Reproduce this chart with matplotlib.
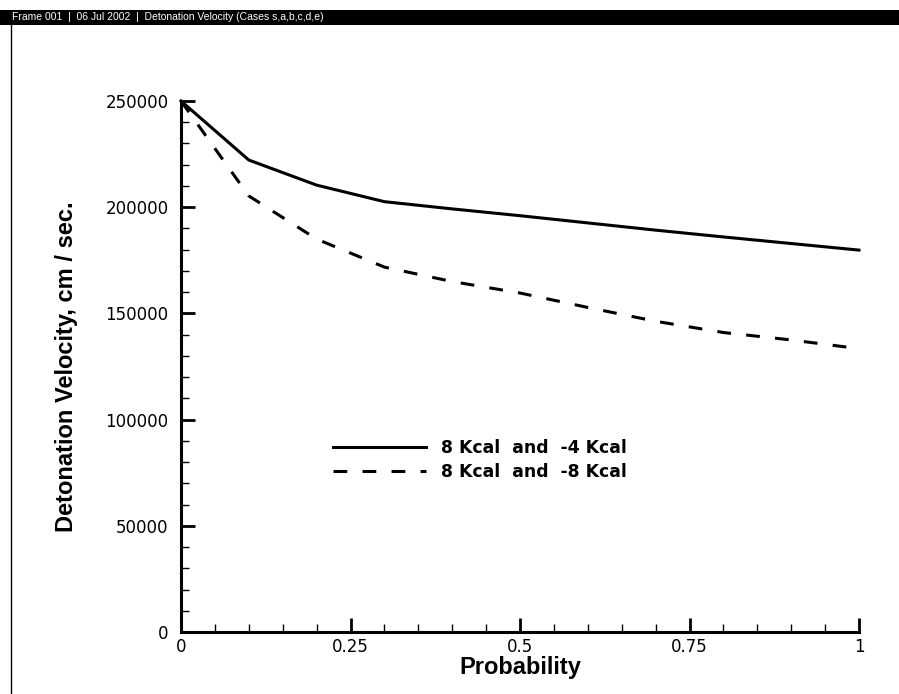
import matplotlib
matplotlib.use("Agg")
import matplotlib.pyplot as plt
from matplotlib.ticker import MultipleLocator, FuncFormatter
from matplotlib.patches import Rectangle
from matplotlib.lines import Line2D

# ---- data ----
probability = [0.0, 0.1, 0.2, 0.3, 0.4, 0.5, 0.6, 0.7, 0.8, 0.9, 1.0]
vel_8_m4 = [250000, 222200, 210400, 202600, 199200, 196000, 192600, 189200, 186000, 182900, 179800]
vel_8_m8 = [250000, 205300, 185000, 171800, 165000, 159600, 152800, 146300, 141000, 137500, 133400]
label_8_m4 = "8 Kcal  and  -4 Kcal"
label_8_m8 = "8 Kcal  and  -8 Kcal"
x_label = "Probability"
y_label = "Detonation Velocity, cm / sec."
header_text = "Frame 001  |  06 Jul 2002  |  Detonation Velocity (Cases s,a,b,c,d,e)"
x_major_ticks = [0, 0.25, 0.5, 0.75, 1]
x_tick_labels = ["0", "0.25", "0.5", "0.75", "1"]

plt.rcParams['font.family'] = ['Liberation Sans', 'DejaVu Sans']

W, H = 899, 694
fig = plt.figure(figsize=(W / 100, H / 100), dpi=100)
fig.patch.set_facecolor("white")

# header bar
fig.patches.append(Rectangle((0, 1 - 25 / H), 1, 15 / H, transform=fig.transFigure,
                             facecolor="black", edgecolor="none", zorder=0))
fig.text(12 / W, 1 - 17.5 / H, header_text, color="white", fontsize=7.5,
         va="center", ha="left")
# left frame line
fig.add_artist(Line2D([11 / W, 11 / W], [0, 1 - 25 / H], transform=fig.transFigure,
                      color="black", lw=1.0))

ax = fig.add_axes([181 / W, 1 - 632 / H, (859 - 181) / W, (632 - 101) / H])
ax.plot(probability, vel_8_m4, color="black", lw=2.2, clip_on=False,
        label=label_8_m4, solid_joinstyle="round")
ax.plot(probability, vel_8_m8, color="black", lw=2.2, clip_on=False,
        dashes=(4.5, 5.0), label=label_8_m8)

ax.set_xlim(0, 1)
ax.set_ylim(0, 250000)
ax.set_xticks(x_major_ticks)
ax.set_xticklabels(x_tick_labels)
ax.xaxis.set_minor_locator(MultipleLocator(0.05))
ax.yaxis.set_major_locator(MultipleLocator(50000))
ax.yaxis.set_minor_locator(MultipleLocator(10000))
ax.yaxis.set_major_formatter(FuncFormatter(lambda v, p: f"{int(v)}"))

for s in ["top", "right"]:
    ax.spines[s].set_visible(False)
for s in ["left", "bottom"]:
    ax.spines[s].set_linewidth(2.2)

ax.tick_params(which="major", direction="in", length=10, width=2.0, labelsize=12)
ax.tick_params(which="minor", direction="in", length=5.5, width=1.0)
ax.tick_params(axis="y", which="major", pad=9)
ax.tick_params(axis="x", which="major", pad=4)
for lab in ax.get_xticklabels() + ax.get_yticklabels():
    lab.set_fontfamily("DejaVu Sans")

ax.set_xlabel(x_label, fontsize=17, fontweight="bold")
ax.set_ylabel(y_label, fontsize=17, fontweight="bold")
ax.xaxis.set_label_coords(0.5, (632 - 656) / 531)
ax.yaxis.set_label_coords((67 - 181) / 678, 0.5)
ax.yaxis.label.set_va("center")

leg = ax.legend(loc="upper left", bbox_to_anchor=(333 / W, 1 - 439 / H),
                bbox_transform=fig.transFigure, frameon=False,
                prop={"size": 12.4, "weight": "bold", "family": "DejaVu Sans"},
                handlelength=5.4, handletextpad=0.85, labelspacing=0.35,
                borderpad=0, borderaxespad=0)

fig.savefig("out.png", dpi=100)
